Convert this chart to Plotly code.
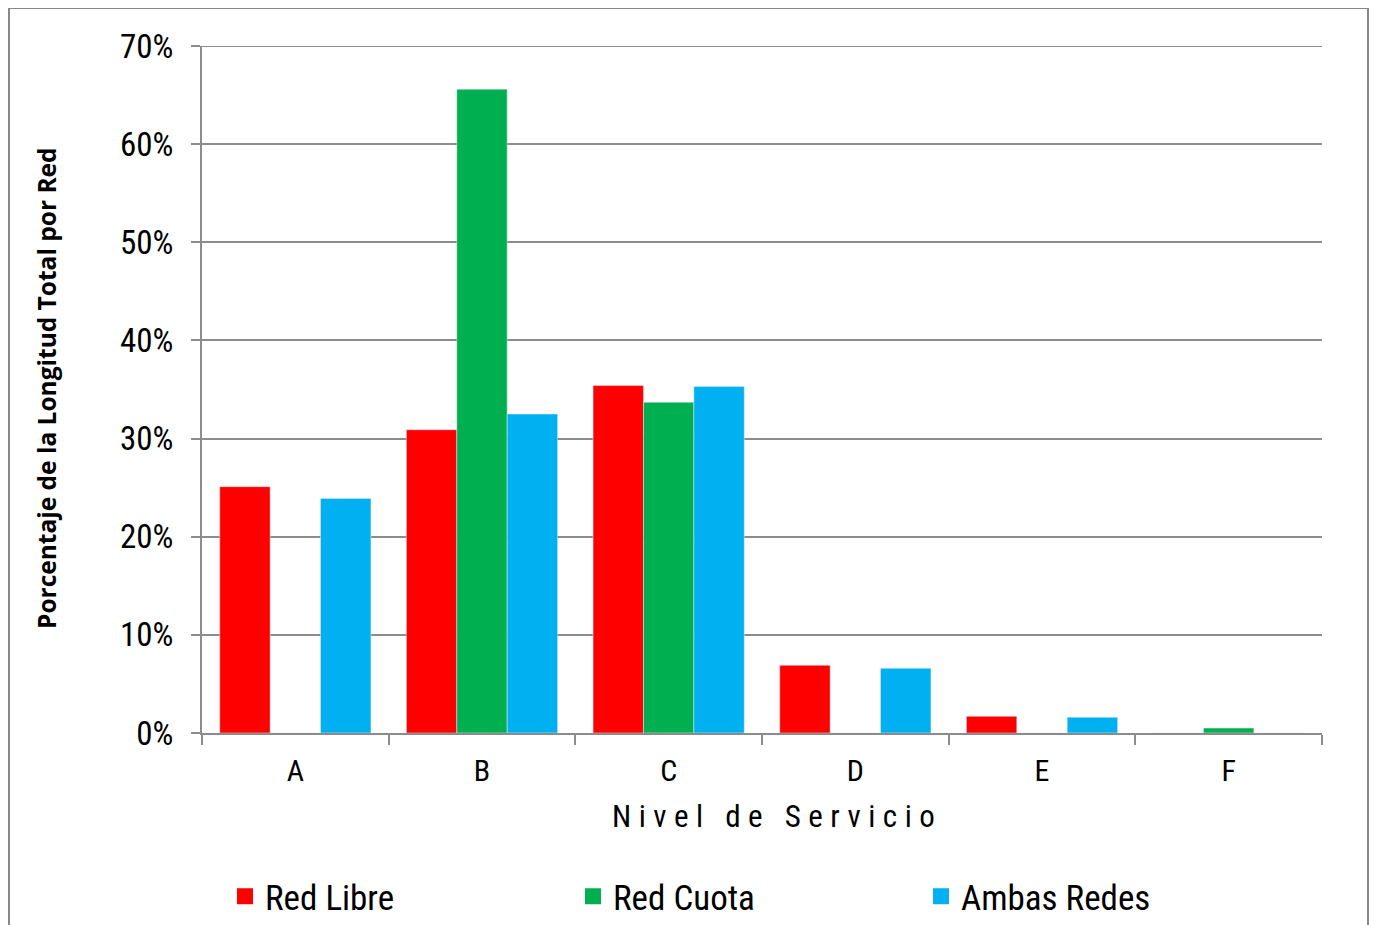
import plotly.graph_objects as go

categories = ["A", "B", "C", "D", "E", "F"]
red_libre = [25.1, 30.9, 35.4, 6.9, 1.7, 0.0]
red_cuota = [0.0, 65.6, 33.7, 0.0, 0.0, 0.5]
ambas_redes = [23.9, 32.5, 35.3, 6.6, 1.6, 0.0]
series_names = ["Red Libre", "Red Cuota", "Ambas Redes"]
series_colors = ["#FF0000", "#00B050", "#00B0F0"]
y_ticks = [0, 10, 20, 30, 40, 50, 60, 70]
y_labels = [f"{v}%" for v in y_ticks]

NARROW = "Liberation Sans Narrow, Arial Narrow, Roboto Condensed, sans-serif"

fig = go.Figure()
for vals, name, col in zip([red_libre, red_cuota, ambas_redes], series_names, series_colors):
    fig.add_bar(x=categories, y=vals, name=name, marker_color=col, showlegend=False,
                legendgroup=name)
# legend entries with larger square swatches
for name, col in zip(series_names, series_colors):
    fig.add_scatter(x=[None], y=[None], mode="markers", name=name, legendgroup=name,
                    marker=dict(symbol="square", size=20, color=col), showlegend=True)

# page body has an 8px margin; work in figure pixels (screen - 8)
OFF = 8
W, H = 1377 - 2 * OFF, 935
L, T = 202 - OFF, 46 - OFF
R = W - (1322 - OFF)
B = H - (733 - OFF)
pw, ph = W - L - R, H - T - B

def px2x(sx):
    return (sx - OFF - L) / pw

def py2y(sy):
    return (H - B - (sy - OFF)) / ph

GRID = "#8C8C8C"

fig.update_layout(
    width=W, height=H,
    margin=dict(l=L, r=R, t=T, b=B, autoexpand=False),
    paper_bgcolor="white", plot_bgcolor="white",
    barmode="group", bargap=0.19, bargroupgap=0,
    font=dict(family=NARROW, color="black"),
    showlegend=True,
    xaxis=dict(
        automargin=False,
        tickson="boundaries", ticks="outside", ticklen=10, tickcolor=GRID, tickwidth=2,
        showline=True, linecolor=GRID, linewidth=2,
        tickfont=dict(size=30, family=NARROW), ticklabelstandoff=10,
    ),
    yaxis=dict(
        automargin=False,
        range=[0, 70], tickvals=y_ticks, ticktext=y_labels,
        ticks="outside", ticklen=9, tickcolor=GRID, tickwidth=2,
        showline=True, linecolor=GRID, linewidth=2,
        showgrid=True, gridcolor=GRID, gridwidth=2,
        zeroline=False,
        tickfont=dict(size=33, family=NARROW), ticklabelstandoff=11,
    ),
    legend=dict(
        orientation="h", x=px2x(225), y=py2y(867), xanchor="left", yanchor="top",
        font=dict(size=35, family=NARROW), entrywidth=303, entrywidthmode="pixels",
        traceorder="normal", tracegroupgap=0, itemclick=False, itemdoubleclick=False,
    ),
    annotations=[
        dict(text='<span style="letter-spacing:7.5px">Nivel de Servicio</span>',
             xref="paper", yref="paper", x=px2x(777), y=py2y(816),
             xanchor="center", yanchor="middle", showarrow=False,
             font=dict(size=31, family=NARROW)),
        dict(text="<b>Porcentaje de la Longitud Total por Red</b>",
             xref="paper", yref="paper", x=px2x(46), y=py2y(388),
             xanchor="center", yanchor="middle", showarrow=False, textangle=-90,
             font=dict(size=24.5, family="Open Sans, sans-serif")),
    ],
    shapes=[
        dict(type="rect", xref="paper", yref="paper",
             x0=px2x(9), x1=px2x(1368), y0=py2y(980), y1=py2y(8),
             line=dict(color="#888888", width=2), fillcolor="rgba(0,0,0,0)", layer="below"),
        dict(type="line", xref="paper", yref="y", x0=0, x1=1, y0=70, y1=70,
             line=dict(color=GRID, width=2), layer="below"),
    ],
)

fig.write_html("out.html")
